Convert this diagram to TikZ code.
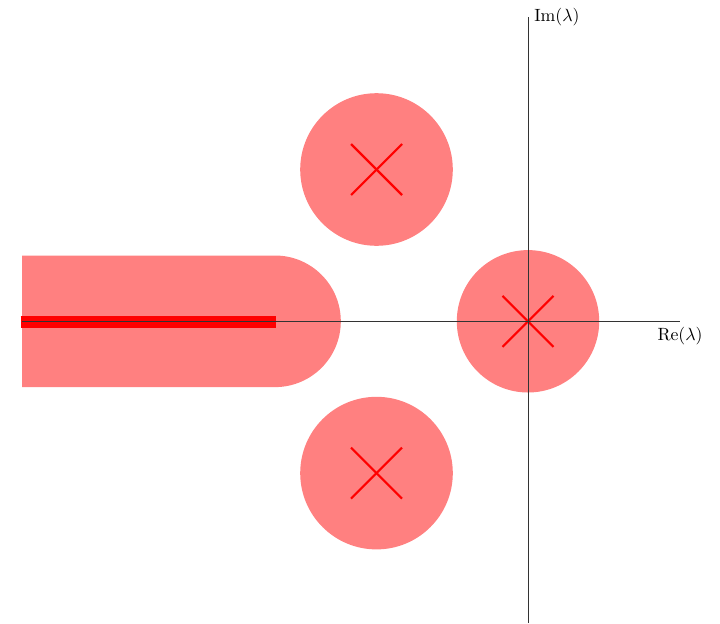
\documentclass[tikz,border=0pt]{standalone}
\begin{document}
\begin{tikzpicture}[x=0.5645pt,y=-0.5645pt,
  region/.style={fill=red!50,draw=none},
  pole/.style={draw=red,line width=1.2pt},
  cut/.style={draw=red,line width=6.8pt},
  axis/.style={draw=black!80,line width=0.5pt}]
\useasboundingbox (0,0) rectangle (720,623);
% regions
\fill[region] (22,255.5) -- (275,255.5) arc[start angle=-90,end angle=90,radius=65.8] -- (22,387.1) -- cycle;
\fill[region] (376.5,169.5) circle[radius=76.3];
\fill[region] (376.5,473.1) circle[radius=76.3];
\fill[region] (528,321.3) circle[radius=71.2];
% branch cut
\coordinate (c1) at (20.5,321.7);
\coordinate (c2) at (276,321.7);
\draw[cut] (c1) -- (c2);
% poles
\foreach \cx/\cy in {376.5/169.5, 376.5/473.1, 528/321.3}{
  \draw[pole] (\cx-25.5,\cy-25.5) -- (\cx+25.5,\cy+25.5);
  \draw[pole] (\cx-25.5,\cy+25.5) -- (\cx+25.5,\cy-25.5);
}
% axes
\coordinate (xl) at (22,321.3);
\coordinate (xr) at (680,321.3);
\coordinate (yt) at (528,17);
\coordinate (yb) at (528,623);
\draw[axis] (xl) -- (xr);
\draw[axis] (yb) -- (yt);
\node[below] (re) at (xr) {Re$(\lambda)$};
\node[right] (im) at (yt) {Im$(\lambda)$};
\end{tikzpicture}
\end{document}
